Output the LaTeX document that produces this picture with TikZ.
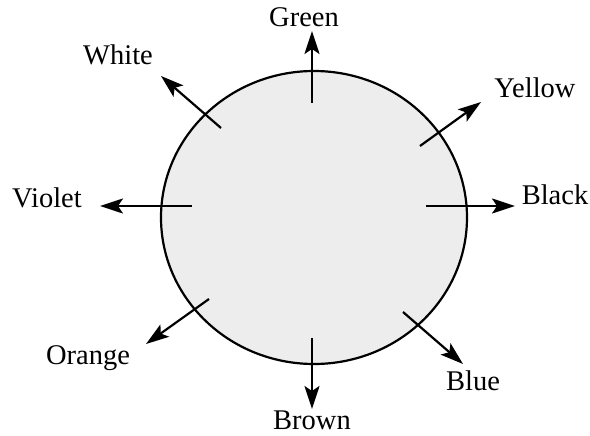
\documentclass[tikz,border=0pt]{standalone}
\usepackage{fontspec}
\setmainfont{Liberation Serif}
\usetikzlibrary{arrows.meta,shapes.geometric}
\begin{document}
\begin{tikzpicture}[x=1pt,y=-1pt,
  lbl/.style={font=\fontsize{28.5}{32}\selectfont, inner sep=0pt, anchor=center},
  ray/.style={line width=2.2pt, -{Stealth[length=23pt,width=15pt,inset=5pt]}}]
\useasboundingbox (0,0) rectangle (590,436);
\node[ellipse, draw, line width=2.2pt, fill=black!7, minimum width=306pt, minimum height=293pt, inner sep=0pt] (disc) at (314,217.5) {};
% tails and tips
\coordinate (gT) at (312,103);  \coordinate (gH) at (312,31);
\coordinate (yT) at (420,146);  \coordinate (yH) at (481,102);
\coordinate (bkT) at (426,206); \coordinate (bkH) at (515,206);
\coordinate (blT) at (403,312); \coordinate (blH) at (463,364);
\coordinate (brT) at (312,338); \coordinate (brH) at (312,409);
\coordinate (oT) at (209,299);  \coordinate (oH) at (146,344);
\coordinate (vT) at (192,206);  \coordinate (vH) at (100,206);
\coordinate (wT) at (221,128);  \coordinate (wH) at (161,76);
\foreach \a/\b in {gT/gH,yT/yH,bkT/bkH,blT/blH,brT/brH,oT/oH,vT/vH,wT/wH}
  \draw[ray] (\a) -- (\b);
% labels
\node[lbl] (green) at (304,17) {Green};
\node[lbl] (yellow) at (535,88) {Yellow};
\node[lbl] (black) at (555,195) {Black};
\node[lbl] (blue) at (473,381) {Blue};
\node[lbl] (brown) at (312,420) {Brown};
\node[lbl] (orange) at (88,358) {Orange};
\node[lbl] (violet) at (47,198) {Violet};
\node[lbl] (white) at (118,55) {White};
\end{tikzpicture}
\end{document}
